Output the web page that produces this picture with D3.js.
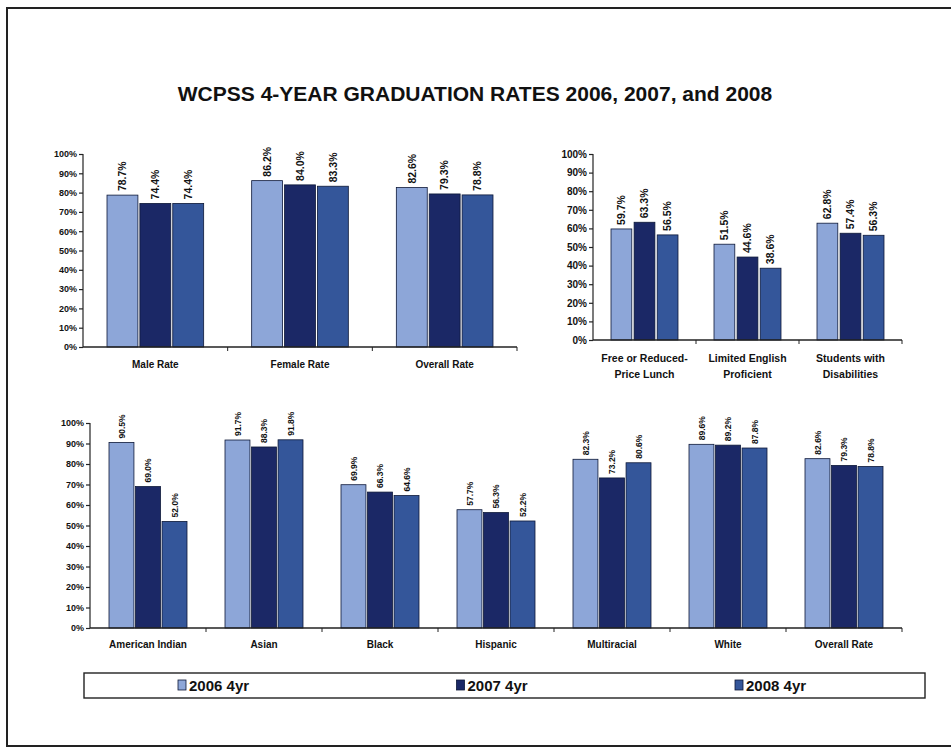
<!DOCTYPE html>
<html><head><meta charset="utf-8">
<script src="https://cdn.jsdelivr.net/npm/d3@7"></script>
<style>
body{margin:0;background:#fff;}
svg{display:block;}
text{font-family:"Liberation Sans",Arial,sans-serif;font-weight:bold;fill:#111;}
</style></head>
<body>
<script>
// ---------- data ----------
const title = "WCPSS 4-YEAR GRADUATION RATES 2006, 2007, and 2008";
const seriesNames = ["2006 4yr", "2007 4yr", "2008 4yr"];
const yTicks = [0,10,20,30,40,50,60,70,80,90,100];

const catsA = ["Male Rate", "Female Rate", "Overall Rate"];
const a2006 = [78.7, 86.2, 82.6];
const a2007 = [74.4, 84.0, 79.3];
const a2008 = [74.4, 83.3, 78.8];

const catsB = ["Free or Reduced-\nPrice Lunch", "Limited English\nProficient", "Students with\nDisabilities"];
const b2006 = [59.7, 51.5, 62.8];
const b2007 = [63.3, 44.6, 57.4];
const b2008 = [56.5, 38.6, 56.3];

const catsC = ["American Indian", "Asian", "Black", "Hispanic", "Multiracial", "White", "Overall Rate"];
const c2006 = [90.5, 91.7, 69.9, 57.7, 82.3, 89.6, 82.6];
const c2007 = [69.0, 88.3, 66.3, 56.3, 73.2, 89.2, 79.3];
const c2008 = [52.0, 91.8, 64.6, 52.2, 80.6, 87.8, 78.8];

const colors = ["#8da6d8", "#1b2866", "#34569a"];

// ---------- drawing ----------
const W = 951, H = 751;
const svg = d3.select("body").append("svg").attr("width", W).attr("height", H);

svg.append("rect").attr("x", 7).attr("y", 8).attr("width", 945).attr("height", 738)
  .attr("fill", "none").attr("stroke", "#222").attr("stroke-width", 2);

svg.append("text").attr("x", 475).attr("y", 101).attr("text-anchor", "middle")
  .attr("font-size", 21).text(title);

function panel(cfg) {
  const g = svg.append("g");
  const y = d3.scaleLinear().domain([0, 100]).range([cfg.y0, cfg.y100]);
  const x = d3.scaleBand().domain(cfg.cats).range([cfg.x0, cfg.x1]).padding(0);
  const inner = d3.scaleBand().domain(seriesNames)
    .range([cfg.pad, x.bandwidth() - cfg.pad]).paddingInner(cfg.gap).paddingOuter(0);
  const rows = cfg.cats.map((c, i) => ({cat: c, vals: cfg.values.map(v => v[i])}));

  rows.forEach(r => {
    const gg = g.append("g").attr("transform", `translate(${x(r.cat)},0)`);
    gg.selectAll("rect").data(r.vals).join("rect")
      .attr("x", (d, j) => inner(seriesNames[j]))
      .attr("y", d => y(d))
      .attr("width", inner.bandwidth())
      .attr("height", d => cfg.y0 - y(d))
      .attr("fill", (d, j) => colors[j])
      .attr("stroke", "#0d1838").attr("stroke-width", 0.8);
    gg.selectAll("text.lbl").data(r.vals).join("text").attr("class", "lbl")
      .attr("transform", (d, j) => `translate(${inner(seriesNames[j]) + inner.bandwidth() / 2 + cfg.lblFs * 0.36},${y(d) - 4}) rotate(-90)`)
      .attr("font-size", cfg.lblFs)
      .text(d => d.toFixed(1) + "%");
  });

  // y axis
  const ax = g.append("g").attr("transform", `translate(${cfg.x0},0)`)
    .call(d3.axisLeft(y).tickValues(yTicks).tickFormat(d => d + "%").tickSize(4).tickPadding(2));
  ax.selectAll("path,line").attr("stroke", "#222").attr("stroke-width", 1.2);
  ax.select("path").attr("d", `M0,${cfg.y100}V${cfg.y0}`);
  ax.selectAll("text").attr("font-size", cfg.tickFs).style("font-family", null).attr("fill", "#111");

  // x axis baseline + category ticks
  g.append("line").attr("x1", cfg.x0).attr("x2", cfg.x1).attr("y1", cfg.y0).attr("y2", cfg.y0)
    .attr("stroke", "#222").attr("stroke-width", 1.4);
  g.selectAll("line.ct").data(cfg.cats.slice(1).concat(["__end"])).join("line").attr("class", "ct")
    .attr("x1", d => d === "__end" ? cfg.x1 : x(d)).attr("x2", d => d === "__end" ? cfg.x1 : x(d))
    .attr("y1", cfg.y0).attr("y2", cfg.y0 + 4).attr("stroke", "#222");

  // category labels
  rows.forEach(r => {
    const t = g.append("text").attr("text-anchor", "middle").attr("font-size", cfg.catFs)
      .attr("x", x(r.cat) + x.bandwidth() / 2).attr("y", cfg.y0 + cfg.catDy);
    r.cat.split("\n").forEach((line, k) => {
      t.append("tspan").attr("x", x(r.cat) + x.bandwidth() / 2).attr("dy", k === 0 ? 0 : cfg.catFs * 1.5).text(line);
    });
  });
}

panel({cats: catsA, values: [a2006, a2007, a2008], x0: 83, x1: 517, y0: 347, y100: 154,
  pad: 24, gap: 0.06, lblFs: 10.5, tickFs: 9, catFs: 10, catDy: 21});
panel({cats: catsB, values: [b2006, b2007, b2008], x0: 593, x1: 902, y0: 340, y100: 154,
  pad: 18, gap: 0.1, lblFs: 10.5, tickFs: 10, catFs: 10.5, catDy: 22});
panel({cats: catsC, values: [c2006, c2007, c2008], x0: 90, x1: 902, y0: 628, y100: 423,
  pad: 19, gap: 0.06, lblFs: 8.5, tickFs: 9, catFs: 10, catDy: 20});

// legend
const lg = svg.append("g");
lg.append("rect").attr("x", 84).attr("y", 673).attr("width", 841).attr("height", 25)
  .attr("fill", "#fff").attr("stroke", "#222").attr("stroke-width", 1.4);
const legX = d3.scalePoint().domain(seriesNames).range([178, 735]);
seriesNames.forEach((s, j) => {
  lg.append("rect").attr("x", legX(s)).attr("y", 680).attr("width", 8).attr("height", 10)
    .attr("fill", colors[j]).attr("stroke", "#0d1838").attr("stroke-width", 0.8);
  lg.append("text").attr("x", legX(s) + 11).attr("y", 691).attr("font-size", 15).text(s);
});
</script>
</body></html>
